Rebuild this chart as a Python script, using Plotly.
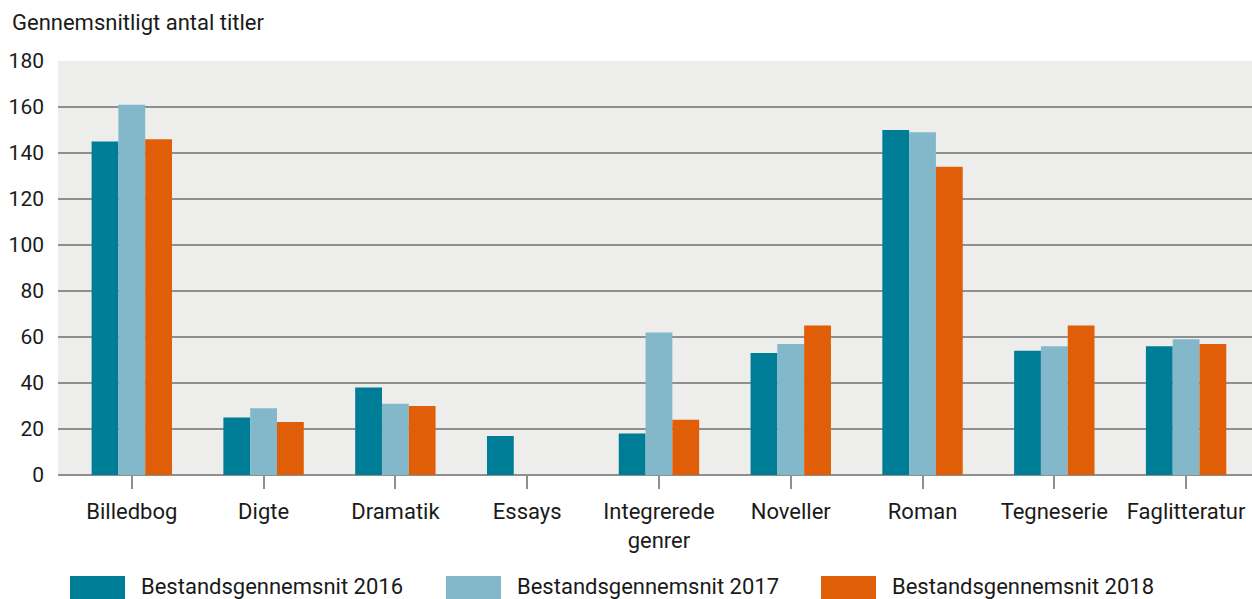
import plotly.graph_objects as go

# data
categories = ["Billedbog", "Digte", "Dramatik", "Essays", "Integrerede<br>genrer",
              "Noveller", "Roman", "Tegneserie", "Faglitteratur"]
series_names = ["Bestandsgennemsnit 2016", "Bestandsgennemsnit 2017", "Bestandsgennemsnit 2018"]
avg_2016 = [145, 25, 38, 17, 18, 53, 150, 54, 56]
avg_2017 = [161, 29, 31, None, 62, 57, 149, 56, 59]
avg_2018 = [146, 23, 30, None, 24, 65, 134, 65, 57]
y_ticks = [0, 20, 40, 60, 80, 100, 120, 140, 160, 180]
y_title = "Gennemsnitligt antal titler"

colors = ["#007D96", "#82B8CA", "#E05E08"]
FONT = "Roboto"
GRID = "#8f8f8f"
TXT = "#1a1a1a"

fig = go.Figure()
for name, vals, col in zip(series_names, [avg_2016, avg_2017, avg_2018], colors):
    fig.add_trace(go.Bar(x=list(range(len(categories))), y=vals, name=name,
                         marker=dict(color=col, line=dict(width=0)), showlegend=False))

fig.update_layout(
    width=1252, height=599,
    margin=dict(l=58, r=0, t=61, b=124),
    paper_bgcolor="white", plot_bgcolor="#EDEDEB",
    barmode="group", bargap=0.39, bargroupgap=0,
    font=dict(family=FONT, size=21, color=TXT),
)
fig.update_xaxes(
    range=[-0.56, 8.5], tickmode="array", tickvals=list(range(len(categories))),
    ticktext=categories, ticks="outside", ticklen=13, tickwidth=2, tickcolor=GRID,
    tickfont=dict(size=22), ticklabelstandoff=4,
    showgrid=False, showline=False, zeroline=False,
)
fig.update_yaxes(
    range=[0, 180], tickvals=y_ticks, showgrid=True, gridcolor=GRID, gridwidth=2,
    zeroline=True, zerolinecolor=GRID, zerolinewidth=2, showline=False,
    ticks="", ticklabelstandoff=13, tickfont=dict(size=21),
)

# y title
fig.add_annotation(text=y_title, xref="paper", yref="paper", x=-48 / 1194, y=1 + 39 / 414,
                   xanchor="left", yanchor="middle", showarrow=False,
                   font=dict(family=FONT, size=22, color=TXT))

# custom legend with wide swatches
leg_x = [70, 446, 821]
for name, col, lx in zip(series_names, colors, leg_x):
    fig.add_shape(type="rect", xref="paper", yref="paper",
                  x0=(lx - 58) / 1194, x1=(lx + 55 - 58) / 1194,
                  y0=-(599 - 475) / 414, y1=-(576 - 475) / 414,
                  fillcolor=col, line=dict(width=0))
    fig.add_annotation(text=name, xref="paper", yref="paper", x=(lx + 69 - 58) / 1194,
                       y=-(586 - 475) / 414, xanchor="left", yanchor="middle",
                       showarrow=False, font=dict(family=FONT, size=22, color=TXT))

fig.write_html("out.html", config={"displayModeBar": False},
               post_script="document.body.style.margin='0';")
